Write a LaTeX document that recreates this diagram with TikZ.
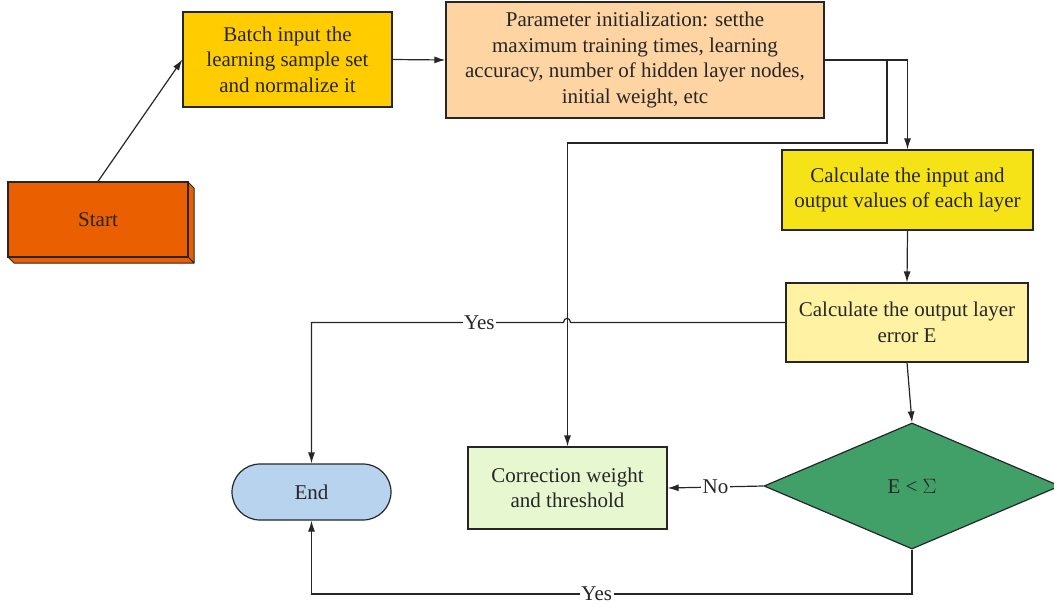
\documentclass[tikz,border=0pt]{standalone}
\usepackage{fontspec}
\setmainfont{Liberation Serif}
\usetikzlibrary{shapes.geometric,arrows.meta}

\definecolor{startor}{HTML}{EA5F00}
\definecolor{batchc}{HTML}{FFCC00}
\definecolor{paramc}{HTML}{FDD4A2}
\definecolor{calcone}{HTML}{F5E217}
\definecolor{calctwo}{HTML}{FFF3A3}
\definecolor{corrc}{HTML}{E7F8D0}
\definecolor{diamc}{HTML}{41A068}
\definecolor{endc}{HTML}{B7D3EE}
\definecolor{ink}{HTML}{262626}

\begin{document}
\begin{tikzpicture}[x=1pt,y=-1pt,
  txt/.style={font=\fontsize{21}{25.5}\selectfont, text=ink},
  box/.style={txt, draw=ink, line width=1.2pt, inner sep=0pt, align=center},
  conn/.style={draw=ink, line width=1.2pt},
  arr/.style={conn, -{Latex[length=11pt,width=7pt]}},
  lbl/.style={txt, fill=white, inner sep=1.5pt}
]
\useasboundingbox (0,0) rectangle (1054,606);
\clip (0,0) rectangle (1054,606);

% extruded sides of the start block
\draw[fill=startor, draw=ink, line width=1pt, line join=round]
  (188,182) -- (194,188) -- (194,263) -- (188,257) -- cycle;
\draw[fill=startor, draw=ink, line width=1pt, line join=round]
  (8,257) -- (14,263) -- (194,263) -- (188,257) -- cycle;

% process blocks
\node[box, fill=startor, minimum width=180pt, minimum height=75pt] (start) at (98,219.5) {Start};
\node[box, fill=batchc, minimum width=209pt, minimum height=95pt] (batch) at (287.5,59.5)
  {Batch input the\\learning sample set\\and normalize it};
\node[box, fill=paramc, minimum width=378pt, minimum height=116pt] (param) at (635,60)
  {Parameter initialization: setthe\\maximum training times, learning\\accuracy, number of hidden layer nodes,\\initial weight, etc};
\node[box, fill=calcone, minimum width=251pt, minimum height=80pt] (calc1) at (907.5,190)
  {Calculate the input and\\output values of each layer};
\node[box, fill=calctwo, minimum width=242pt, minimum height=79pt] (calc2) at (907,322.5)
  {Calculate the output layer\\error E};
\node[box, fill=corrc, minimum width=199pt, minimum height=82pt] (corr) at (567.5,488)
  {Correction weight\\and threshold};
\node[box, fill=endc, minimum width=159pt, minimum height=56pt, rounded corners=28pt] (end) at (311.5,492) {End};
\node[box, fill=diamc, diamond, aspect=2.35, minimum width=296pt, minimum height=126pt] (dia) at (912,486)
  {E < $\Sigma$};

% connectors
\draw[arr] (start.north) -- (batch.west);
\draw[arr] (batch.east) -- (param.west);
\draw[arr] (param.east) -| (calc1.north);

\coordinate (split) at (887,60);
\coordinate (turn) at (887,143);
\draw[arr] (split) -- (turn) -| (corr.north);

\draw[arr] (calc1.south) -- (calc2.north);
\draw[arr] (calc2.south) -- (dia.north);

% "Yes" branch from the error block, hopping over the vertical line
\coordinate (hopR) at (570.5,322.5);
\coordinate (hopL) at (563.5,322.5);
\coordinate (yesTop) at (311.5,322.5);
\draw[arr] (calc2.west) -- (hopR)
  .. controls (570.5,317) and (563.5,317) .. (hopL)
  -- node[lbl, pos=0.334] {Yes} (yesTop) -- (end.north);

\draw[arr] (dia.west) -- node[lbl] {No} (corr.east);

\coordinate (down) at (912,594);
\coordinate (yesBot) at (311.5,594);
\draw[arr] (dia.south) -- (down) -- node[lbl, pos=0.525] {Yes} (yesBot) -- (end.south);
\end{tikzpicture}
\end{document}
